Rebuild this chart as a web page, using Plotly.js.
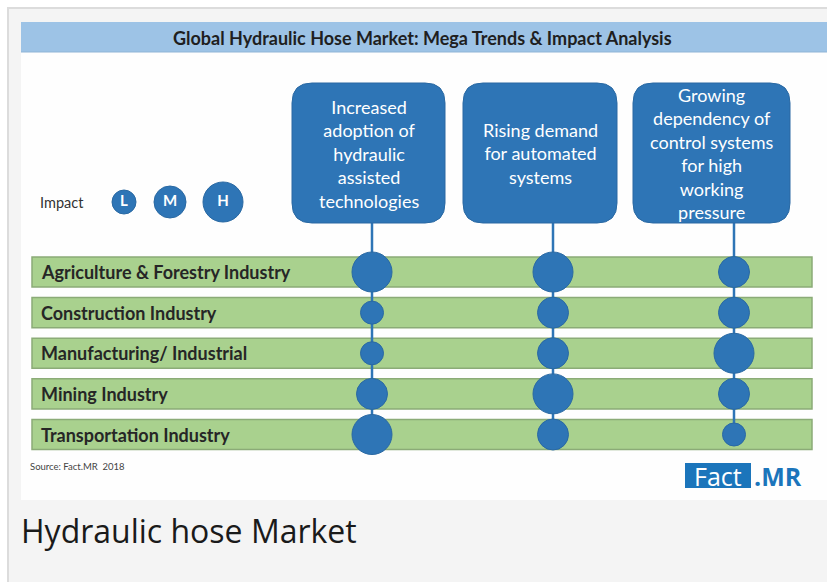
<!DOCTYPE html>
<html><head><meta charset="utf-8">
<script src="https://cdn.plot.ly/plotly-3.0.1.min.js"></script>
<style>html,body{margin:0;padding:0;background:#ffffff;}#chart{width:827px;height:582px;}</style>
</head><body><div id="chart"></div>
<script>
// ---------- DATA ----------
const chartTitle = "Global Hydraulic Hose Market: Mega Trends & Impact Analysis";
const industries = ["Agriculture & Forestry Industry","Construction Industry","Manufacturing/ Industrial","Mining Industry","Transportation Industry"];
const trends = ["Increased adoption of hydraulic assisted technologies","Rising demand for automated systems","Growing dependency of control systems for high working pressure"];
const trendLabels = ["Increased<br>adoption of<br>hydraulic<br>assisted<br>technologies","Rising demand<br>for automated<br>systems","Growing<br>dependency of<br>control systems<br>for high<br>working<br>pressure"];
const impactLevels = ["L","M","H"];
const impactTrend1 = ["H","L","L","M","H"];
const impactTrend2 = ["H","M","M","H","M"];
const impactTrend3 = ["M","M","H","M","L"];
const impactLabel = "Impact";
const sourceText = "Source: Fact.MR  2018";
const captionText = "Hydraulic hose Market";

// ---------- STYLE / LAYOUT ----------
const W = 827, H = 582;
const X = p => p / W, Y = p => 1 - p / H;
const BLUE = "#2e75b6";
const sizeMap = {L: 23, M: 31, H: 40};
const legendSize = {L: 24, M: 32, H: 40};
const impacts = [impactTrend1, impactTrend2, impactTrend3];

// category axis mapping: trend 0 -> px 372, trend 2 -> px 734
const xu = (734 - 372) / 2;
const xRange = [-372 / xu, (W - 372) / xu];
const yu = (434.5 - 272) / 4;
const yRange = [(H - 272) / yu, -272 / yu];

const traces = impacts.map((imp, j) => ({
  type: "scatter", mode: "markers",
  x: industries.map(() => trends[j]), y: industries,
  xaxis: "x", yaxis: "y",
  marker: {size: imp.map(v => sizeMap[v]), color: BLUE, opacity: 1, line: {color: "#2a69a3", width: 1}},
  hoverinfo: "skip"
}));
traces.push({
  type: "scatter", mode: "markers+text",
  x: [124, 170, 223], y: [202, 202, 202], xaxis: "x2", yaxis: "y2",
  text: impactLevels, textposition: "middle center",
  textfont: {family: "Lato", size: 15, color: "#ffffff", weight: "bold"},
  marker: {size: impactLevels.map(v => legendSize[v]), color: BLUE, opacity: 1, line: {color: "#2a69a3", width: 1}},
  hoverinfo: "skip"
});

function rr(x0, y0, x1, y1, r) {
  const a = X(x0), b = X(x1), c = Y(y0), d = Y(y1), rx = r / W, ry = r / H;
  return `M ${a+rx},${c} L ${b-rx},${c} Q ${b},${c} ${b},${c-ry} L ${b},${d+ry} Q ${b},${d} ${b-rx},${d} L ${a+rx},${d} Q ${a},${d} ${a},${d+ry} L ${a},${c-ry} Q ${a},${c} ${a+rx},${c} Z`;
}

const shapes = [];
// frame
shapes.push({type: "rect", xref: "paper", yref: "paper", x0: X(8), x1: X(W + 2), y0: Y(H + 2), y1: Y(8), fillcolor: "#f4f4f4", line: {color: "#dcdcdc", width: 2}, layer: "below"});
shapes.push({type: "rect", xref: "paper", yref: "paper", x0: X(21), x1: X(W + 2), y0: Y(500), y1: Y(22), fillcolor: "#fefefe", line: {width: 0}, layer: "below"});
shapes.push({type: "rect", xref: "paper", yref: "paper", x0: X(21), x1: X(W + 2), y0: Y(52), y1: Y(22), fillcolor: "#9dc3e6", line: {width: 0}, layer: "below"});
shapes.push({type: "line", xref: "paper", yref: "paper", x0: X(21), x1: X(W + 2), y0: Y(52), y1: Y(52), line: {color: "#8fb4d6", width: 1}, layer: "below"});
// rows
industries.forEach((ind, i) => {
  shapes.push({type: "rect", xref: "paper", yref: "y", x0: X(32), x1: X(812), y0: i - 0.37, y1: i + 0.37, fillcolor: "#a9d18e", line: {color: "#8bab77", width: 1.5}, layer: "below"});
});
// connectors
const boxes = [[292, 83, 445, 223], [463, 83, 617, 223], [633, 83, 790, 223]];
trends.forEach((t, j) => {
  shapes.push({type: "line", xref: "x", yref: "paper", x0: j, x1: j, y0: Y(223), y1: Y(434), line: {color: BLUE, width: 2.5}, layer: "below"});
});
// trend boxes
boxes.forEach(b => {
  shapes.push({type: "path", xref: "paper", yref: "paper", path: rr(b[0], b[1], b[2], b[3], 20), fillcolor: BLUE, line: {color: "#2a69a3", width: 1}, layer: "below"});
});
// logo box
shapes.push({type: "rect", xref: "paper", yref: "paper", x0: X(685), x1: X(751), y0: Y(488), y1: Y(463), fillcolor: "#1b75bb", line: {width: 0}, layer: "below"});

const annotations = [];
annotations.push({xref: "paper", yref: "paper", x: X(422), y: Y(38), text: "<b>" + chartTitle + "</b>", showarrow: false, xanchor: "center", yanchor: "middle", font: {family: "Lato", size: 18, color: "#1f1f1f"}});
trends.forEach((t, j) => {
  const b = boxes[j];
  annotations.push({xref: "paper", yref: "paper", x: X((b[0] + b[2]) / 2), y: Y(154), text: trendLabels[j], showarrow: false, xanchor: "center", yanchor: "middle", align: "center", font: {family: "Lato", size: 18, color: "#ffffff"}});
});
industries.forEach((ind, i) => {
  annotations.push({xref: "paper", yref: "y", x: X(39), y: ind, text: "<b>" + ind + "</b>", showarrow: false, xanchor: "left", yanchor: "middle", font: {family: "Lato", size: 18, color: "#262626"}});
});
annotations.push({xref: "paper", yref: "paper", x: X(38), y: Y(202), text: impactLabel, showarrow: false, xanchor: "left", yanchor: "middle", font: {family: "Lato", size: 14.5, color: "#333333"}});
annotations.push({xref: "paper", yref: "paper", x: X(28), y: Y(466), text: sourceText, showarrow: false, xanchor: "left", yanchor: "middle", font: {family: "Lato", size: 9.5, color: "#444444"}});
annotations.push({xref: "paper", yref: "paper", x: X(718), y: Y(476), text: "Fact", showarrow: false, xanchor: "center", yanchor: "middle", font: {family: "Open Sans", size: 25, color: "#ffffff"}});
annotations.push({xref: "paper", yref: "paper", x: X(752), y: Y(476), text: "<b>.MR</b>", showarrow: false, xanchor: "left", yanchor: "middle", font: {family: "Open Sans", size: 25, color: "#1b75bb"}});
annotations.push({xref: "paper", yref: "paper", x: X(19), y: Y(530), text: captionText, showarrow: false, xanchor: "left", yanchor: "middle", font: {family: "Open Sans", size: 32, color: "#1a1a1a"}});

const layout = {
  width: W, height: H, margin: {l: 0, r: 0, t: 0, b: 0, pad: 0},
  paper_bgcolor: "#ffffff", plot_bgcolor: "rgba(0,0,0,0)", showlegend: false,
  xaxis: {type: "category", categoryorder: "array", categoryarray: trends, range: xRange, visible: false, fixedrange: true},
  yaxis: {type: "category", categoryorder: "array", categoryarray: industries, range: yRange, visible: false, fixedrange: true},
  xaxis2: {overlaying: "x", range: [0, W], visible: false},
  yaxis2: {overlaying: "y", range: [H, 0], visible: false},
  shapes: shapes, annotations: annotations
};
Plotly.newPlot("chart", traces, layout, {staticPlot: true, displayModeBar: false});
</script></body></html>
